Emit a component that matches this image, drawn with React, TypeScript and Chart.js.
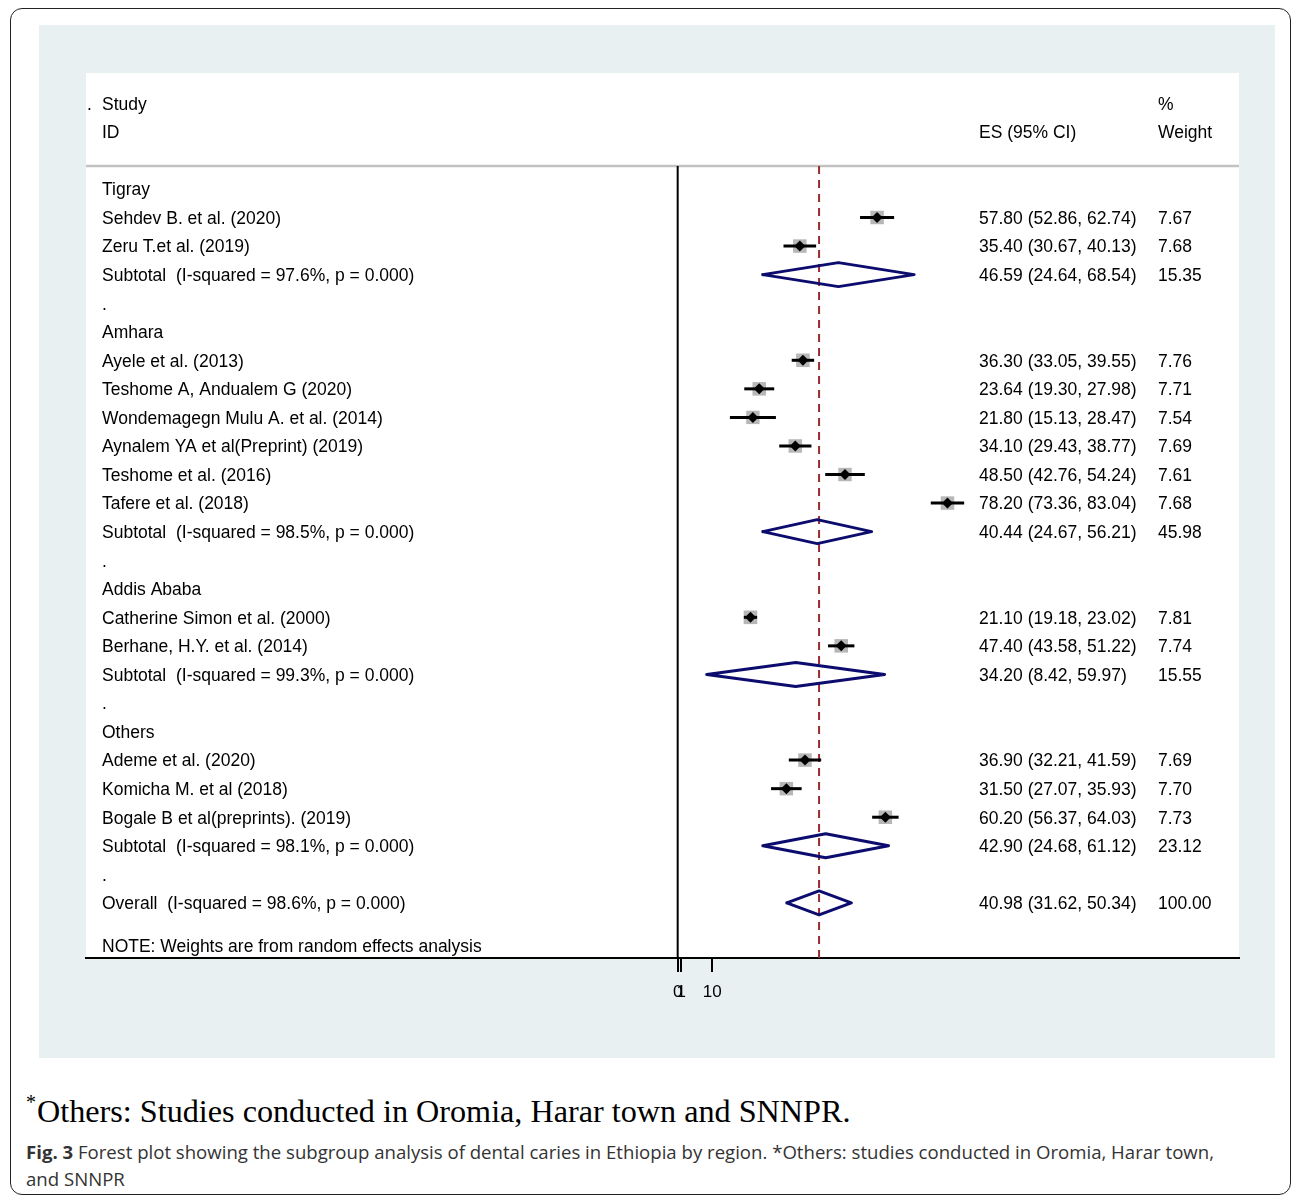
import React, { useEffect, useRef } from 'react';
import { Chart, registerables } from 'chart.js';

Chart.register(...registerables);

// ---------- data ----------
const rowLabels: string[] = [
  'Tigray',
  'Sehdev B. et al. (2020)',
  'Zeru T.et al. (2019)',
  'Subtotal  (I-squared = 97.6%, p = 0.000)',
  '.',
  'Amhara',
  'Ayele et al. (2013)',
  'Teshome A, Andualem G (2020)',
  'Wondemagegn Mulu A. et al. (2014)',
  'Aynalem YA et al(Preprint) (2019)',
  'Teshome et al. (2016)',
  'Tafere et al. (2018)',
  'Subtotal  (I-squared = 98.5%, p = 0.000)',
  '.',
  'Addis Ababa',
  'Catherine Simon et al. (2000)',
  'Berhane, H.Y. et al. (2014)',
  'Subtotal  (I-squared = 99.3%, p = 0.000)',
  '.',
  'Others',
  'Ademe et al. (2020)',
  'Komicha M. et al (2018)',
  'Bogale B et al(preprints). (2019)',
  'Subtotal  (I-squared = 98.1%, p = 0.000)',
  '.',
  'Overall  (I-squared = 98.6%, p = 0.000)',
];
const rowKinds: string[] = [
  'group', 'study', 'study', 'subtotal', 'gap',
  'group', 'study', 'study', 'study', 'study', 'study', 'study', 'subtotal', 'gap',
  'group', 'study', 'study', 'subtotal', 'gap',
  'group', 'study', 'study', 'study', 'subtotal', 'gap',
  'overall',
];
const rowES: (number | null)[] = [
  null, 57.80, 35.40, 46.59, null,
  null, 36.30, 23.64, 21.80, 34.10, 48.50, 78.20, 40.44, null,
  null, 21.10, 47.40, 34.20, null,
  null, 36.90, 31.50, 60.20, 42.90, null,
  40.98,
];
const rowLo: (number | null)[] = [
  null, 52.86, 30.67, 24.64, null,
  null, 33.05, 19.30, 15.13, 29.43, 42.76, 73.36, 24.67, null,
  null, 19.18, 43.58, 8.42, null,
  null, 32.21, 27.07, 56.37, 24.68, null,
  31.62,
];
const rowHi: (number | null)[] = [
  null, 62.74, 40.13, 68.54, null,
  null, 39.55, 27.98, 28.47, 38.77, 54.24, 83.04, 56.21, null,
  null, 23.02, 51.22, 59.97, null,
  null, 41.59, 35.93, 64.03, 61.12, null,
  50.34,
];
const rowWeight: (number | null)[] = [
  null, 7.67, 7.68, 15.35, null,
  null, 7.76, 7.71, 7.54, 7.69, 7.61, 7.68, 45.98, null,
  null, 7.81, 7.74, 15.55, null,
  null, 7.69, 7.70, 7.73, 23.12, null,
  100.00,
];
const xTickValues: number[] = [0, 1, 10];
const xTickLabels: string[] = ['0', '1', '10'];
const headerStudy: string[] = ['Study', 'ID'];
const headerES = 'ES (95% CI)';
const headerWeight: string[] = ['%', 'Weight'];
const noteText = 'NOTE: Weights are from random effects analysis';
const footNote = 'Others: Studies conducted in Oromia, Harar town and SNNPR.';
const captionBold = 'Fig. 3';
const captionLine1 =
  ' Forest plot showing the subgroup analysis of dental caries in Ethiopia by region. *Others: studies conducted in Oromia, Harar town,';
const captionLine2 = 'and SNNPR';

// ---------- layout constants ----------
const X_MIN = -171.5;
const X_MAX = 162.7;
const Y_MIN = -4.06;
const Y_MAX = 26.93;
const SEP_ROW = -0.8;
const DIAMOND_HALF = 0.42;
const FONT = '17.5px "Liberation Sans", Arial, sans-serif';
const TEXT_DY = 1.5;

const fmt = (v: number) => v.toFixed(2);

export default function App() {
  const canvasRef = useRef<HTMLCanvasElement | null>(null);

  useEffect(() => {
    document.body.style.margin = '0';
    const canvas = canvasRef.current;
    if (!canvas) return;

    const overall = rowES[rowKinds.indexOf('overall')] as number;

    const datasets: any[] = [];

    // black point markers (top)
    const studyPts = rowKinds
      .map((k, i) => (k === 'study' ? { x: rowES[i] as number, y: i } : null))
      .filter(Boolean);
    datasets.push({
      type: 'scatter',
      data: studyPts,
      pointStyle: 'rectRot',
      pointRadius: 5.5,
      backgroundColor: '#000',
      borderColor: '#000',
      borderWidth: 0,
      order: 0,
    });

    // CI lines
    rowKinds.forEach((k, i) => {
      if (k !== 'study') return;
      datasets.push({
        type: 'line',
        data: [
          { x: rowLo[i] as number, y: i },
          { x: rowHi[i] as number, y: i },
        ],
        borderColor: '#000',
        borderWidth: 3,
        pointRadius: 0,
        fill: false,
        order: 1,
      });
    });

    // weight boxes
    const boxPts = rowKinds
      .map((k, i) => (k === 'study' ? { x: rowES[i] as number, y: i, w: rowWeight[i] as number } : null))
      .filter(Boolean);
    datasets.push({
      type: 'scatter',
      data: boxPts,
      pointStyle: 'rect',
      pointRadius: (ctx: any) => {
        const w = ctx.raw ? ctx.raw.w : 7.7;
        return (13.5 * Math.sqrt(w / 7.7)) / Math.SQRT2;
      },
      backgroundColor: '#b7b7b7',
      borderColor: '#b7b7b7',
      borderWidth: 0,
      order: 2,
    });

    // pooled diamonds
    rowKinds.forEach((k, i) => {
      if (k !== 'subtotal' && k !== 'overall') return;
      const es = rowES[i] as number;
      const lo = rowLo[i] as number;
      const hi = rowHi[i] as number;
      datasets.push({
        type: 'line',
        data: [
          { x: lo, y: i },
          { x: es, y: i - DIAMOND_HALF },
          { x: hi, y: i },
          { x: es, y: i + DIAMOND_HALF },
          { x: lo, y: i },
        ],
        borderColor: '#0c0c6e',
        borderWidth: 3,
        borderJoinStyle: 'round',
        borderCapStyle: 'round',
        pointRadius: 0,
        fill: false,
        tension: 0,
        order: 3,
      });
    });

    // overall dashed line
    datasets.push({
      type: 'line',
      data: [
        { x: overall, y: SEP_ROW },
        { x: overall, y: Y_MAX },
      ],
      borderColor: '#9a2b30',
      borderWidth: 2,
      borderDash: [8, 6],
      pointRadius: 0,
      order: 4,
    });

    // null line at zero
    datasets.push({
      type: 'line',
      data: [
        { x: 0, y: SEP_ROW },
        { x: 0, y: Y_MAX },
      ],
      borderColor: '#000',
      borderWidth: 2,
      pointRadius: 0,
      order: 5,
    });

    // header separator
    datasets.push({
      type: 'line',
      data: [
        { x: X_MIN, y: SEP_ROW },
        { x: X_MAX, y: SEP_ROW },
      ],
      borderColor: '#c2c2c2',
      borderWidth: 2.5,
      pointRadius: 0,
      order: 6,
    });

    const bgPlugin = {
      id: 'bg',
      beforeDraw(chart: any) {
        const { ctx, chartArea: a, width, height } = chart;
        ctx.save();
        ctx.fillStyle = '#e8f0f2';
        ctx.fillRect(0, 0, width, height);
        ctx.fillStyle = '#ffffff';
        ctx.fillRect(a.left, a.top, a.right - a.left, a.bottom - a.top);
        ctx.restore();
      },
    };

    const textPlugin = {
      id: 'forestText',
      afterDraw(chart: any) {
        const { ctx, chartArea: a } = chart;
        const ys = chart.scales.y;
        const py = (v: number) => ys.getPixelForValue(v) + TEXT_DY;
        const colLeft = a.left + 16;
        const colES = a.left + 893;
        const colW = a.left + 1072;
        ctx.save();
        ctx.font = FONT;
        ctx.fillStyle = '#000';
        ctx.textBaseline = 'middle';
        ctx.textAlign = 'left';
        // header
        ctx.fillText('.', a.left + 1, py(-3));
        ctx.fillText(headerStudy[0], colLeft, py(-3));
        ctx.fillText(headerStudy[1], colLeft, py(-2));
        ctx.fillText(headerES, colES, py(-2));
        ctx.fillText(headerWeight[0], colW, py(-3));
        ctx.fillText(headerWeight[1], colW, py(-2));
        rowLabels.forEach((lab, i) => {
          const y = py(i);
          ctx.fillText(lab, colLeft, y);
          const es = rowES[i];
          if (es !== null) {
            ctx.fillText(`${fmt(es)} (${fmt(rowLo[i] as number)}, ${fmt(rowHi[i] as number)})`, colES, y);
            ctx.fillText(fmt(rowWeight[i] as number), colW, y);
          }
        });
        ctx.fillText(noteText, colLeft, py(rowLabels.length + 0.5));
        ctx.restore();
      },
    };

    const chart = new Chart(canvas, {
      type: 'scatter',
      data: { datasets },
      options: {
        animation: false,
        responsive: false,
        maintainAspectRatio: false,
        layout: { padding: { left: 47, right: 36, top: 48, bottom: 0 } },
        plugins: { legend: { display: false }, tooltip: { enabled: false } },
        scales: {
          x: {
            type: 'linear',
            min: X_MIN,
            max: X_MAX,
            afterFit: (scale: any) => {
              scale.height = 100;
            },
            afterBuildTicks: (scale: any) => {
              scale.ticks = xTickValues.map((v) => ({ value: v }));
            },
            ticks: {
              autoSkip: false,
              maxRotation: 0,
              padding: 10,
              color: '#000',
              font: { family: '"Liberation Sans", Arial, sans-serif', size: 17 },
              callback: (v: any) => {
                const idx = xTickValues.indexOf(Number(v));
                return idx >= 0 ? xTickLabels[idx] : '';
              },
            },
            grid: {
              display: true,
              drawOnChartArea: false,
              drawTicks: true,
              tickLength: 14,
              color: '#000',
              lineWidth: 2,
            },
            border: { display: true, color: '#000', width: 2 },
          },
          y: {
            type: 'linear',
            display: false,
            min: Y_MIN,
            max: Y_MAX,
            reverse: true,
          },
        },
      },
      plugins: [bgPlugin, textPlugin],
    } as any);

    return () => chart.destroy();
  }, []);

  return (
    <div style={{ position: 'relative', width: 1292, height: 1198, overflow: 'hidden', background: '#fff' }}>
      <div
        style={{
          position: 'absolute',
          left: 10,
          top: 8,
          width: 1281,
          height: 1187,
          border: '1.5px solid #222',
          borderRadius: 12,
          boxSizing: 'border-box',
        }}
      />
      <canvas
        ref={canvasRef}
        width={1236}
        height={1033}
        style={{ position: 'absolute', left: 39, top: 25, width: 1236, height: 1033 }}
      />
      <div
        style={{
          position: 'absolute',
          left: 26,
          top: 1093,
          fontFamily: '"Liberation Serif", "Times New Roman", serif',
          fontSize: 32.2,
          lineHeight: '37px',
          color: '#000',
          whiteSpace: 'nowrap',
        }}
      >
        <span style={{ fontSize: 20, position: 'relative', top: -13, marginRight: 1 }}>*</span>
        {footNote}
      </div>
      <div
        style={{
          position: 'absolute',
          left: 26,
          top: 1138,
          fontFamily: '"Open Sans", "Noto Sans", sans-serif',
          fontSize: 18.6,
          lineHeight: '27px',
          color: '#333',
          whiteSpace: 'nowrap',
        }}
      >
        <div>
          <b>{captionBold}</b>
          {captionLine1}
        </div>
        <div>{captionLine2}</div>
      </div>
    </div>
  );
}
